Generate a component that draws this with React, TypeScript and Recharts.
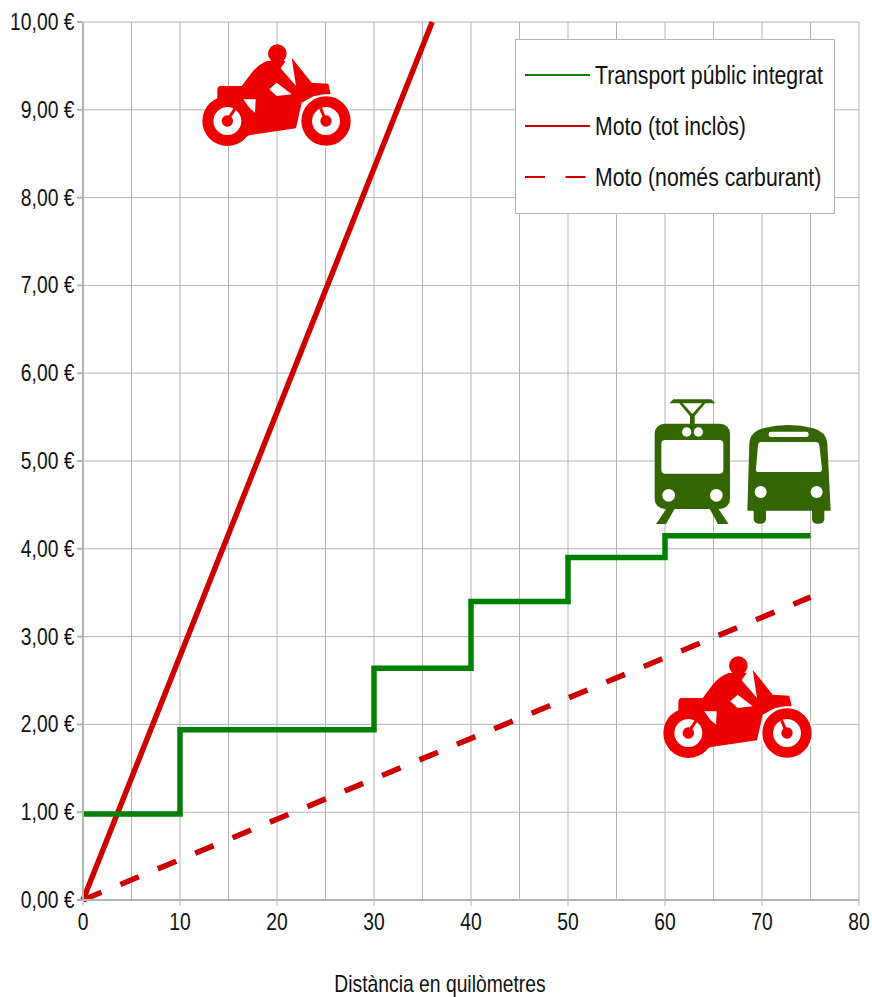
import React from "react";
import { CartesianGrid, Legend, Line, LineChart, XAxis, YAxis } from "recharts";

const FONT = '"Liberation Sans", sans-serif';
const TEXT_COLOR = "#111";

const transitKm = [0, 10, 10, 30, 30, 40, 40, 50, 50, 60, 60, 75];
const transitCost = [0.98, 0.98, 1.94, 1.94, 2.64, 2.64, 3.4, 3.4, 3.9, 3.9, 4.15, 4.15];
const motoKm = [0, 36];
const motoCost = [0, 10];
const fuelKm = [0, 75];
const fuelCost = [0, 3.45];

const xTicks = [0, 5, 10, 15, 20, 25, 30, 35, 40, 45, 50, 55, 60, 65, 70, 75, 80];
const yTicks = [0, 1, 2, 3, 4, 5, 6, 7, 8, 9, 10];
const legendOrder = ["Transport públic integrat", "Moto (tot inclòs)", "Moto (només carburant)"];

const zip = (km: number[], cost: number[]) => km.map((x, i) => ({ x, y: cost[i] }));

// no narrow font installed, so the labels are squeezed by hand
function NarrowText({ x, y, size = 23, squeeze = 0.84, anchor = "start", children }: any) {
  return (
    <text
      transform={`translate(${x} ${y}) scale(${squeeze} 1)`}
      textAnchor={anchor}
      fontFamily={FONT}
      fontSize={size}
      fill={TEXT_COLOR}
    >
      {children}
    </text>
  );
}

function XTick({ x, y, payload }: any) {
  if (payload.value % 10 !== 0) return null;
  return (
    <g>
      <line x1={x} x2={x} y1={y - 8} y2={y - 2} stroke="#b3b3b3" />
      <NarrowText x={x} y={y + 22} anchor="middle">
        {payload.value}
      </NarrowText>
    </g>
  );
}

function YTick({ y, payload }: any) {
  return (
    <NarrowText x={74.5} y={y + 8} anchor="end">
      {`${payload.value.toFixed(2).replace(".", ",")} €`}
    </NarrowText>
  );
}

function AxisTitle() {
  return (
    <NarrowText x={440} y={992} anchor="middle">
      Distància en quilòmetres
    </NarrowText>
  );
}

function LegendBox({ payload }: any) {
  const items = [...(payload || [])].sort(
    (a: any, b: any) => legendOrder.indexOf(a.value) - legendOrder.indexOf(b.value)
  );
  return (
    <svg width={320} height={175} style={{ display: "block" }}>
      <rect x={0.5} y={0.5} width={319} height={174} fill="#fff" stroke="#b3b3b3" />
      {items.map((it: any, i: number) => (
        <g key={it.value} transform={`translate(0 ${36 + i * 51})`}>
          <line
            x1={10}
            x2={75}
            y1={0}
            y2={0}
            stroke={it.color}
            strokeWidth={2}
            strokeDasharray={it.payload.strokeDasharray}
          />
          <NarrowText x={80} y={9} size={26} squeeze={0.816}>
            {it.value}
          </NarrowText>
        </g>
      ))}
    </svg>
  );
}

function Motorbike({ left, top }: { left: number; top: number }) {
  return (
    <svg
      viewBox="30 30 470 320"
      width={156.7}
      height={106.7}
      style={{ position: "absolute", left, top }}
    >
      <circle cx={112} cy={270} r={75} fill="#ee0000" />
      <path
        fillRule="evenodd"
        fill="#fff"
        d="M112 228 a42 42 0 1 0 0.01 0 Z M112 253 a17 17 0 1 1 -0.01 0 Z"
      />
      <line x1={116} y1={262} x2={136} y2={232} stroke="#ee0000" strokeWidth={9} />
      <g fill="#ee0000">
        <circle cx={262} cy={68} r={28} />
        <path d="M232 90 Q205 100 185 125 L155 165 L92 165 Q82 165 82 178 L82 208 L150 226 L165 270 L150 325 L180 312 L318 292 L335 215 L372 195 L422 190 L415 158 L365 155 L305 80 L318 165 L272 112 L287 90 Z" />
      </g>
      <g fill="#fff">
        <path d="M238 175 L260 155 L305 190 L260 195 Z" />
        <path d="M160 205 L197 205 L195 245 L178 230 Z" />
      </g>
      <circle cx={408} cy={270} r={77} fill="#ee0000" stroke="#fff" strokeWidth={6} />
      <path
        fillRule="evenodd"
        fill="#fff"
        d="M408 228 a42 42 0 1 0 0.01 0 Z M408 253 a17 17 0 1 1 -0.01 0 Z"
      />
      <line x1={404} y1={262} x2={392} y2={232} stroke="#ee0000" strokeWidth={9} />
    </svg>
  );
}

function TransitIcons() {
  return (
    <svg
      viewBox="0 0 600 450"
      width={200}
      height={150}
      style={{ position: "absolute", left: 640, top: 390 }}
    >
      <g fill="#336600">
        <path d="M88 40 L100 28 L214 28 L226 40 L196 40 L164 78 L164 104 L150 104 L150 78 L118 40 Z M128 40 L157 72 L186 40 Z" fillRule="evenodd" />
        <rect x={44} y={101} width={226} height={256} rx={30} />
        <path d="M80 355 L105 355 L78 402 L48 402 Z M208 355 L234 355 L266 402 L234 402 Z" />
        <path d="M322 362 L328 160 Q330 125 370 115 Q445 95 520 115 Q558 125 562 160 L572 362 Z" />
        <rect x={341} y={350} width={37} height={51} rx={14} />
        <rect x={516} y={350} width={37} height={51} rx={14} />
      </g>
      <g fill="#fff">
        <circle cx={140} cy={126} r={14} />
        <circle cx={175} cy={126} r={14} />
        <rect x={64} y={150} width={186} height={101} rx={12} />
        <circle cx={86} cy={316} r={19} />
        <circle cx={229} cy={316} r={19} />
        <rect x={386} y={125} width={120} height={16} rx={7} />
        <path d="M362 156 L528 156 Q536 156 538 166 L546 236 Q546 246 536 246 L356 246 Q346 246 348 236 L354 166 Q356 156 362 156 Z" />
        <circle cx={362} cy={306} r={18} />
        <circle cx={530} cy={306} r={18} />
      </g>
    </svg>
  );
}

export default function App() {
  return (
    <div style={{ position: "absolute", left: 0, top: 0, width: 872, height: 997, background: "#fff" }}>
      <LineChart
        width={872}
        height={997}
        margin={{ top: 22, right: 13, bottom: 0, left: 0 }}
      >
        <CartesianGrid stroke="#b3b3b3" horizontalValues={yTicks} verticalValues={xTicks} />
        <XAxis
          type="number"
          dataKey="x"
          domain={[0, 80]}
          ticks={xTicks}
          interval={0}
          height={97}
          stroke="#b3b3b3"
          strokeWidth={2}
          tickLine={false}
          tick={<XTick />}
          label={<AxisTitle />}
        />
        <YAxis
          type="number"
          domain={[0, 10]}
          ticks={yTicks}
          interval={0}
          width={83}
          stroke="#b3b3b3"
          strokeWidth={2}
          tickSize={6}
          tick={<YTick />}
        />
        <Line
          data={zip(motoKm, motoCost)}
          dataKey="y"
          name="Moto (tot inclòs)"
          stroke="#cc0000"
          strokeWidth={5.5}
          dot={false}
          isAnimationActive={false}
        />
        <Line
          data={zip(fuelKm, fuelCost)}
          dataKey="y"
          name="Moto (només carburant)"
          stroke="#cc0000"
          strokeWidth={5.5}
          strokeDasharray="20 20.5"
          dot={false}
          isAnimationActive={false}
        />
        <Line
          data={zip(transitKm, transitCost)}
          dataKey="y"
          name="Transport públic integrat"
          stroke="#008000"
          strokeWidth={5.5}
          dot={false}
          isAnimationActive={false}
        />
        <Legend
          layout="horizontal"
          align="center"
          verticalAlign="middle"
          content={<LegendBox />}
          wrapperStyle={{ position: "absolute", left: 515, top: 39, width: 320, height: 175 }}
        />
      </LineChart>
      <Motorbike left={200} top={41} />
      <Motorbike left={661} top={653} />
      <TransitIcons />
    </div>
  );
}
